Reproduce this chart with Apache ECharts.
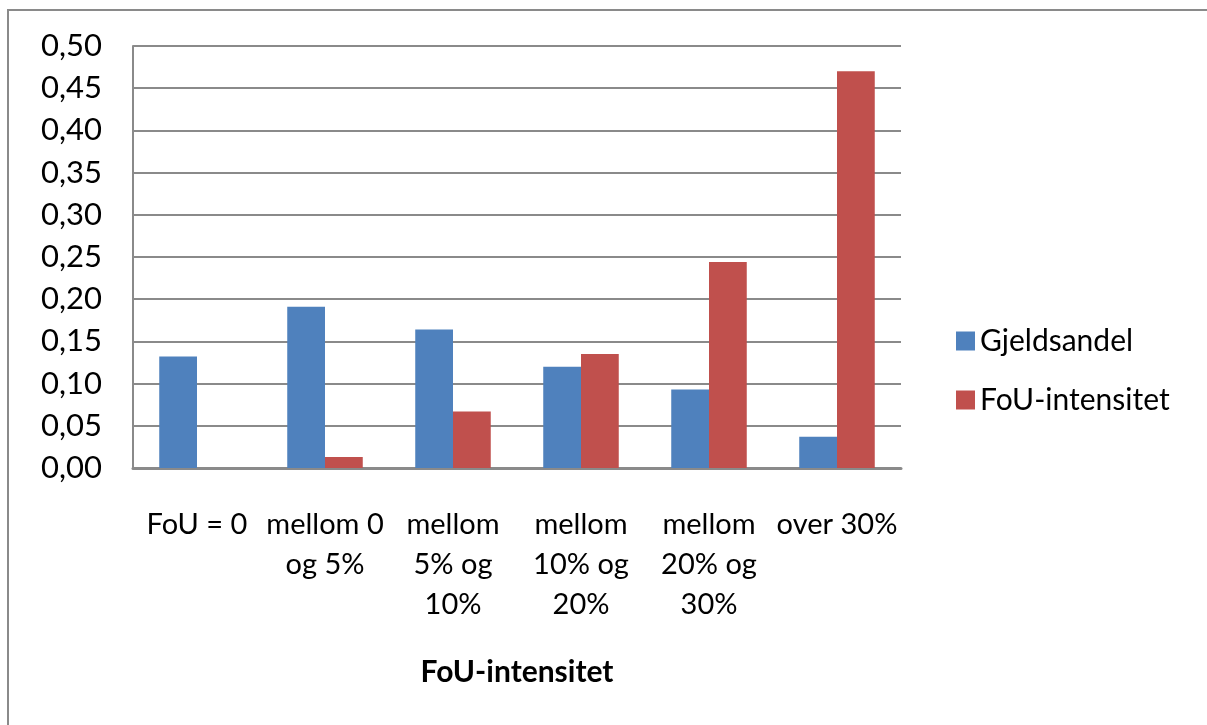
<!DOCTYPE html>
<html>
<head>
<meta charset="utf-8">
<script src="https://cdn.jsdelivr.net/npm/echarts@6/dist/echarts.min.js"></script>
<style>
  html, body { margin: 0; padding: 0; background: #ffffff; }
  #chart { width: 1207px; height: 725px; }
</style>
</head>
<body>
<div id="chart"></div>
<script>
// Category labels (FoU intensity groups)
const categories = [
  'FoU = 0',
  'mellom 0\nog 5%',
  'mellom\n5% og\n10%',
  'mellom\n10% og\n20%',
  'mellom\n20% og\n30%',
  'over 30%'
];

// Series values
const gjeldsandel = [0.132, 0.191, 0.164, 0.120, 0.093, 0.037];
const fouIntensitet = [0.000, 0.013, 0.067, 0.135, 0.244, 0.470];

// Y tick labels (Norwegian decimal comma)
const yTickLabels = ['0,00', '0,05', '0,10', '0,15', '0,20', '0,25', '0,30', '0,35', '0,40', '0,45', '0,50'];

const FONT = 'Lato';
const GRID_COLOR = '#8a8a8a';

const chart = echarts.init(document.getElementById('chart'), null, { renderer: 'canvas' });

chart.setOption({
  backgroundColor: '#ffffff',
  animation: false,
  graphic: [{
    type: 'rect',
    shape: { x: 8, y: 10, width: 1400, height: 900 },
    style: { fill: 'none', stroke: GRID_COLOR, lineWidth: 2 },
    silent: true,
    z: -1
  }],
  grid: { left: 133, right: 306, top: 46, bottom: 257, containLabel: false },
  legend: {
    orient: 'vertical',
    left: 951,
    top: 321,
    itemWidth: 19,
    itemHeight: 19,
    itemGap: 29,
    icon: 'rect',
    textStyle: { fontFamily: FONT, fontSize: 30, color: '#000', padding: [0, 0, 0, 0] },
    data: ['Gjeldsandel', 'FoU-intensitet']
  },
  xAxis: {
    type: 'category',
    data: categories,
    name: 'FoU-intensitet',
    nameLocation: 'middle',
    nameGap: 189,
    nameTextStyle: { fontFamily: FONT, fontSize: 30, fontWeight: 'bold', color: '#000' },
    axisLine: { lineStyle: { color: GRID_COLOR, width: 3 } },
    axisTick: { show: false },
    axisLabel: {
      interval: 0,
      fontFamily: FONT,
      fontSize: 29,
      color: '#000',
      lineHeight: 40,
      margin: 37,
      verticalAlign: 'top'
    }
  },
  yAxis: {
    type: 'value',
    min: 0,
    max: 0.5,
    interval: 0.05,
    axisLine: { show: true, lineStyle: { color: GRID_COLOR, width: 2 } },
    axisTick: { show: false },
    splitLine: { lineStyle: { color: GRID_COLOR, width: 2 } },
    axisLabel: {
      fontFamily: FONT,
      fontSize: 31,
      color: '#000',
      margin: 31,
      formatter: (v) => yTickLabels[Math.round(v / 0.05)]
    }
  },
  series: [
    {
      name: 'Gjeldsandel',
      type: 'bar',
      data: gjeldsandel,
      barGap: '0%',
      barCategoryGap: '41%',
      itemStyle: { color: '#4F81BD' }
    },
    {
      name: 'FoU-intensitet',
      type: 'bar',
      data: fouIntensitet,
      barGap: '0%',
      barCategoryGap: '41%',
      itemStyle: { color: '#C0504D' }
    }
  ]
});
</script>
</body>
</html>
